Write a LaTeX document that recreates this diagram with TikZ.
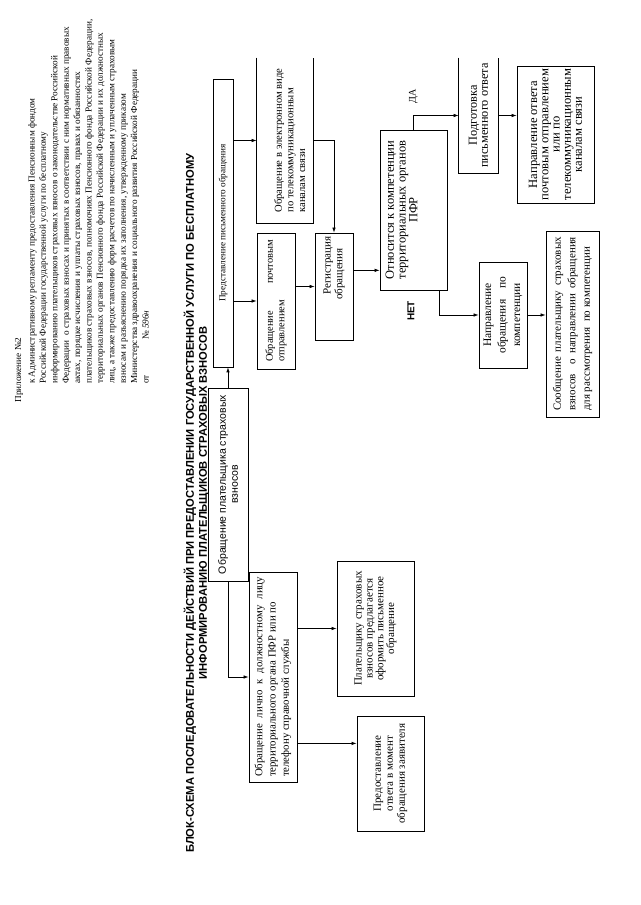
\documentclass[tikz,border=0pt]{standalone}
\usepackage{fontspec}
\setmainfont{Liberation Serif}
\setsansfont{Liberation Sans}
\usetikzlibrary{arrows.meta,calc,positioning}

\newcommand{\fsz}[2]{\fontsize{#1}{#2}\selectfont}

\begin{document}
\begin{tikzpicture}[
  x=1pt, y=1pt, rotate=90, transform shape,
  box/.style={draw, line width=0.7pt, inner sep=0pt, align=center, font=\fsz{10.5}{11.5}},
  obox/.style={box, draw=none},
  arr/.style={-{Latex[length=5pt,width=3.5pt]}, line width=0.7pt},
  lbl/.style={inner sep=0pt, font=\fsz{10}{12}}
]
\useasboundingbox (0,0) rectangle (905,640);

% шапка
\node[font=\fsz{9.2}{11.4}] (pril) at (535,621) {Приложение №2};
\node[anchor=north west, inner sep=0pt, align=left, font=\fsz{9.2}{11.4}] (regl) at (521,612)
  {к Административному регламенту предоставления Пенсионным фондом\\
   Российской Федерации государственной услуги по бесплатному\\
   информированию плательщиков страховых взносов о законодательстве Российской\\
   Федерации\ \ о страховых взносах и принятых в соответствии с ним нормативных правовых\\
   актах, порядке исчисления и уплаты страховых взносов, правах и обязанностях\\
   плательщиков страховых взносов, полномочиях Пенсионного фонда Российской Федерации,\\
   территориальных органов Пенсионного фонда Российской Федерации и их должностных\\
   лиц, а также предоставлению форм расчетов по начисленным и уплаченным страховым\\
   взносам и разъяснению порядка их заполнения, утвержденному приказом\\
   Министерства здравоохранения и социального развития Российской Федерации\\
   от\hspace{36pt}№\,\textit{596н}};
\node[align=center, font=\sffamily\bfseries\fsz{11.2}{13}] (title) at (402,443.5)
  {БЛОК-СХЕМА ПОСЛЕДОВАТЕЛЬНОСТИ ДЕЙСТВИЙ ПРИ ПРЕДОСТАВЛЕНИИ ГОСУДАРСТВЕННОЙ УСЛУГИ ПО БЕСПЛАТНОМУ\\
   ИНФОРМИРОВАНИЮ ПЛАТЕЛЬЩИКОВ СТРАХОВЫХ ВЗНОСОВ};

% блоки
\node[box, minimum width=193, minimum height=40, font=\sffamily\fsz{10.5}{12}] (obr) at (420.5,412)
  {Обращение плательщика страховых\\взносов};
\node[box, minimum width=288, minimum height=20, font=\fsz{9.2}{11}] (pism) at (682,417)
  {Представление письменного обращения};
\node[obox, minimum width=165, minimum height=56, text width=144, align=justify, text depth=14pt, font=\fsz{10.6}{11.7}] (elec) at (764.5,355)
  {Обращение в электронном виде\linebreak по телекоммуникационным\\каналам связи};
\node[box, minimum width=136, minimum height=38, text width=122, align=left, font=\fsz{10.4}{11.7}] (post) at (604,364)
  {Обращение \hfill почтовым\\отправлением};
\node[box, minimum width=107, minimum height=38, text width=100, align=right, font=\fsz{11}{11.7}] (reg) at (618.5,306)
  {Регистрация\\обращения\phantom{ии}};
\node[box, minimum width=160, minimum height=67, text depth=24pt, font=\fsz{12.5}{11.8}] (komp) at (695,226.5)
  {Относится к компетенции\\территориальных органов\\ПФР};
\node[obox, minimum width=115, minimum height=39, font=\fsz{12.3}{11}] (podg) at (789.5,161.5)
  {Подготовка\\письменного ответа};
\node[box, minimum width=137, minimum height=77, font=\fsz{12.6}{11.2}] (napotv) at (770.5,84.5)
  {Направление ответа\\почтовым отправлением\\или по\\телекоммуникационным\\каналам связи};
\node[box, minimum width=106, minimum height=48, font=\fsz{11.5}{14.5}] (napkomp) at (590,137)
  {Направление\\обращения\quad по\\компетенции};
\node[box, minimum width=186, minimum height=53, text width=174, align=justify, font=\fsz{11}{14.5}] (soob) at (581,67.5)
  {Сообщение плательщику страховых\linebreak взносов\ \ о направлении обращения\linebreak для рассмотрения\ \ по компетенции};
\node[box, minimum width=210, minimum height=48, text width=200, align=justify, font=\fsz{10.8}{13.3}] (lich) at (228,367)
  {Обращение лично к должностному лицу\linebreak территориального органа ПФР или по\\телефону справочной службы};
\node[box, minimum width=135, minimum height=77, font=\fsz{11}{10.8}] (plat) at (276.5,264.5)
  {Плательщику страховых\\взносов предлагается\\оформить письменное\\обращение};
\node[box, minimum width=115, minimum height=67, font=\fsz{11}{12}] (pred) at (131.5,249.5)
  {Предоставление\\ответа в момент\\обращения заявителя};

% открытые сверху блоки
\draw[line width=0.7pt] (elec.north east) -- (elec.north west) -- (elec.south west) -- (elec.south east);
\draw[line width=0.7pt] (podg.north east) -- (podg.north west) -- (podg.south west) -- (podg.south east);

% точки присоединения
\coordinate (netout) at ($(komp.south west)!0.12!(komp.north west)$);
\coordinate (regout) at ($(reg.south west)!0.65!(reg.south east)$);
\coordinate (predin) at ($(pred.north west)!0.76!(pred.north east)$);

% стрелки
\draw[arr] (obr.east) -- (obr.east -| pism.west);
\draw[arr] (pism.south -| elec.north) -- (elec.north);
\draw[arr] (pism.south -| post.north) -- (post.north);
\draw[arr] (elec.south) |- (reg.east);
\draw[arr] (post.south -| reg.north) -- (reg.north);
\draw[arr] (regout) -- (regout |- komp.north);
\draw[arr] (komp.east) -| (podg.north);
\draw[arr] (podg.south) -- (podg.south |- napotv.north);
\draw[arr] (netout) -| (napkomp.north);
\draw[arr] (napkomp.south) -- (napkomp.south |- soob.north);
\draw[arr] (obr.west) -| (lich.north);
\draw[arr] (lich.south -| plat.north) -- (plat.north);
\draw[arr] (lich.south -| predin) -- (predin);

% подписи
\node[lbl, anchor=south west] (da) at (801,222) {ДА};
\node[lbl, font=\sffamily\bfseries\fsz{10}{12}] (net) at (594,229) {НЕТ};
\end{tikzpicture}
\end{document}
